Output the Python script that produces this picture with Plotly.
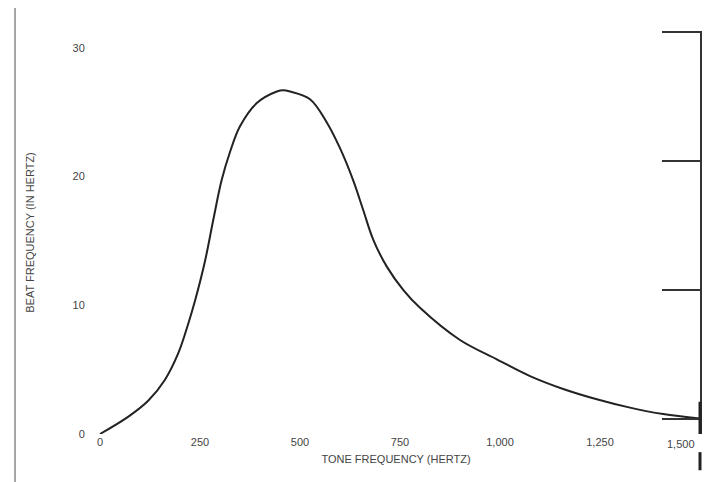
import plotly.graph_objects as go

# Data
tone_freq = [0, 71, 121, 162, 196, 221, 238, 263, 283, 304, 325, 350, 392, 442, 458, 475,
             525, 567, 600, 633, 658, 683, 717, 758, 800, 900, 992, 1075, 1158, 1242,
             1325, 1408, 1500]
beat_freq = [0.0, 1.35, 2.6, 4.2, 6.3, 8.6, 10.4, 13.5, 16.6, 19.7, 21.9, 23.9, 25.7, 26.6,
             26.7, 26.6, 26.0, 24.2, 22.2, 19.7, 17.4, 15.1, 13.0, 11.2, 9.8, 7.3, 5.8,
             4.5, 3.5, 2.7, 2.05, 1.55, 1.2]

x_ticks = [0, 250, 500, 750, 1000, 1250, 1500]
x_tick_labels = ["0", "250", "500", "750", "1,000", "1,250", "1,500"]
y_ticks = [0, 10, 20, 30]
y_tick_labels = ["0", "10", "20", "30"]

font = dict(family="Liberation Sans, Arial, sans-serif", size=11, color="#444444")

fig = go.Figure()
fig.add_trace(go.Scatter(
    x=tone_freq, y=beat_freq, mode="lines",
    line=dict(color="#222222", width=2, shape="spline", smoothing=1.0),
    showlegend=False, hoverinfo="skip"))
# invisible trace on the right-hand axis so it renders
fig.add_trace(go.Scatter(x=[1500], y=[0], yaxis="y2", mode="markers",
                         marker=dict(opacity=0), showlegend=False, hoverinfo="skip"))

fig.update_layout(
    width=712, height=482,
    margin=dict(l=84, r=20, t=23, b=56),
    paper_bgcolor="white", plot_bgcolor="white",
    font=font,
    xaxis=dict(range=[-20, 1500], tickvals=x_ticks[:-1], ticktext=x_tick_labels[:-1],
               showgrid=False, zeroline=False, showline=False, automargin=False,
               ticks="",
               title=dict(text="TONE FREQUENCY (HERTZ)", standoff=8, font=font)),
    yaxis=dict(range=[0, 31.3], tickvals=y_ticks, ticktext=y_tick_labels,
               showgrid=False, zeroline=False, showline=False, automargin=False,
               ticks="outside", ticklen=4, tickcolor="white",
               title=dict(text="BEAT FREQUENCY (IN HERTZ)", standoff=35, font=font)),
    yaxis2=dict(overlaying="y", side="right", range=[-1.2, 30.1],
                tickvals=y_ticks, showticklabels=False, automargin=False,
                ticks="inside", ticklen=38, tickwidth=2, tickcolor="#333333",
                showline=True, linecolor="#333333", linewidth=2,
                showgrid=False, zeroline=False),
    # last x tick label, right-aligned so it stays inside the page
    annotations=[dict(x=x_ticks[-1], y=0, xref="x", yref="paper", text=x_tick_labels[-1],
                      xanchor="right", yanchor="top", xshift=-3, yshift=-2,
                      showarrow=False, font=font)],
    shapes=[
        dict(type="line", xref="paper", yref="paper", x0=-0.1266, x1=-0.1266, y0=-0.12, y1=1.08,
             line=dict(color="#888888", width=1.5)),
        dict(type="line", xref="paper", yref="paper", x0=1.0, x1=1.0, y0=-0.0, y1=0.08,
             line=dict(color="#222222", width=3)),
        dict(type="line", xref="paper", yref="paper", x0=1.0, x1=1.0, y0=-0.045, y1=-0.09,
             line=dict(color="#222222", width=3)),
    ],
)

fig.write_html("out.html")
